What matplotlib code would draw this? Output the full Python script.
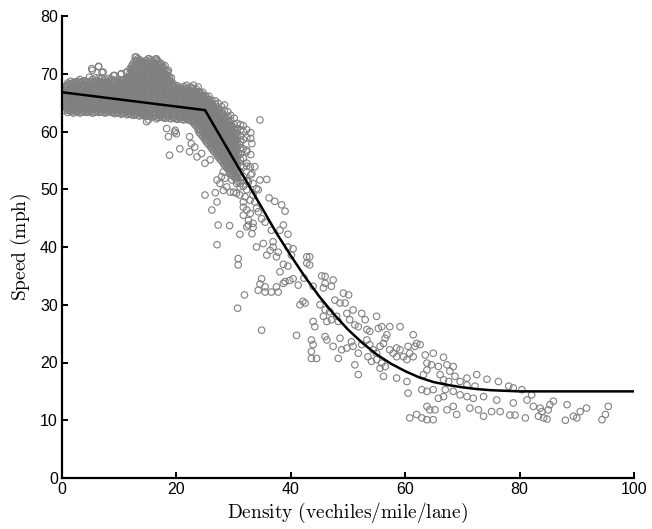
import numpy as np
import matplotlib
matplotlib.use("Agg")
import matplotlib.pyplot as plt

plt.rcParams['mathtext.fontset'] = 'cm'

# ---- fitted speed-density curve ----
line_density = [0, 25, 30, 35, 37.5, 40, 42.5, 45, 47.5, 50, 52.5, 55, 57.5, 60,
                62.5, 65, 67.5, 70, 72.5, 75, 77.5, 80, 100]
line_speed = [66.8, 63.7, 55.2, 46.7, 42.4, 38.5, 34.8, 31.4, 28.4, 25.7, 23.4, 21.4,
              19.8, 18.5, 17.4, 16.6, 16.1, 15.7, 15.4, 15.2, 15.1, 15.0, 15.0]

# ---- dense free-flow cloud: density -> speeds ----
dense_cloud_a = """
0.5: 63.6 64.3 65.0 65.7 66.4 67.1 67.7
1.0: 63.3 63.9 64.6 65.2 65.9 66.5 67.2 67.9 68.4
1.5: 63.5 64.1 64.8 65.4 66.1 66.8 67.4 68.1 68.7
2.0: 63.2 63.8 64.5 65.1 65.8 66.4 67.0 67.7 68.3
2.6: 63.4 64.0 64.7 65.3 66.0 66.6 67.3 67.9 68.6
3.1: 63.2 63.9 64.5 65.2 65.8 66.5 67.1 67.8 68.4 69.0
3.7: 63.5 64.1 64.8 65.4 66.1 66.7 67.4 68.0 68.7
4.2: 63.3 63.9 64.6 65.2 65.9 66.5 67.2 67.8 68.5
4.8: 63.4 64.1 64.7 65.4 66.0 66.7 67.3 68.0 68.6 69.4
5.3: 63.2 63.8 64.5 65.1 65.8 66.4 67.1 67.7 68.4 69.0 70.6
5.9: 63.5 64.1 64.8 65.4 66.1 66.7 67.4 68.0 68.7 69.3
6.4: 63.3 63.9 64.6 65.2 65.9 66.5 67.2 67.8 68.5 69.2 71.2
7.0: 63.4 64.0 64.7 65.3 66.0 66.6 67.3 67.9 68.6 69.3 70.2
7.5: 63.2 63.8 64.5 65.1 65.8 66.4 67.1 67.7 68.4 69.0
8.1: 63.5 64.1 64.7 65.4 66.0 66.7 67.3 68.0 68.6 69.2
8.6: 63.3 63.9 64.6 65.2 65.9 66.5 67.2 67.8 68.5 69.1
9.2: 63.1 63.7 64.4 65.0 65.7 66.3 67.0 67.6 68.3 68.9 69.7
9.7: 63.3 63.9 64.6 65.2 65.9 66.5 67.2 67.8 68.5
10.3: 63.0 63.7 64.3 65.0 65.6 66.3 66.9 67.6 68.2 68.9 69.9
10.8: 63.2 63.8 64.5 65.1 65.8 66.4 67.1 67.7 68.4 69.0
11.4: 62.9 63.6 64.2 64.9 65.5 66.2 66.8 67.5 68.1 68.8 69.4 70.3
11.9: 63.1 63.7 64.4 65.0 65.7 66.3 67.0 67.6 68.3 68.9 69.6 70.2 70.9
12.5: 62.8 63.4 64.1 64.7 65.4 66.0 66.7 67.3 68.0 68.6 69.3 69.9 70.6 71.2 71.9
13.0: 63.0 63.6 64.3 64.9 65.6 66.2 66.9 67.5 68.2 68.8 69.5 70.1 70.8 71.4 72.2 72.9
13.6: 62.7 63.3 64.0 64.6 65.3 65.9 66.6 67.2 67.9 68.5 69.2 69.8 70.5 71.1 71.8 72.4
14.1: 62.9 63.5 64.2 64.8 65.5 66.1 66.8 67.4 68.1 68.7 69.4 70.0 70.7 71.3 72.0
14.7: 62.6 63.2 63.9 64.5 65.2 65.8 66.5 67.1 67.8 68.4 69.1 69.7 70.4 71.0 71.7 72.3
15.2: 62.8 63.4 64.1 64.7 65.4 66.0 66.7 67.3 68.0 68.6 69.3 69.9 70.6 71.2 71.9 72.6
15.8: 62.5 63.1 63.8 64.4 65.1 65.7 66.4 67.0 67.7 68.3 69.0 69.6 70.3 70.9 71.6 72.2
16.3: 62.7 63.3 64.0 64.6 65.3 65.9 66.6 67.2 67.9 68.5 69.2 69.8 70.5 71.1 71.8 72.5
16.9: 62.4 63.0 63.7 64.3 65.0 65.6 66.3 66.9 67.6 68.2 68.9 69.5 70.2 70.8 71.5 72.1
17.4: 62.6 63.2 63.9 64.5 65.2 65.8 66.5 67.1 67.8 68.4 69.1 69.7 70.4 71.0 71.7
18.0: 62.3 62.9 63.6 64.2 64.9 65.5 66.2 66.8 67.5 68.1 68.8 69.4 70.1 70.7 71.4
18.5: 62.5 63.1 63.8 64.4 65.1 65.7 66.4 67.0 67.7 68.3 69.0 69.6 70.3
19.1: 62.2 62.8 63.5 64.1 64.8 65.4 66.1 66.7 67.4 68.0 68.6 69.3
19.6: 62.4 63.0 63.7 64.3 65.0 65.6 66.3 66.9 67.6 68.1
20.2: 62.1 62.7 63.4 64.0 64.7 65.3 66.0 66.6 67.3 67.9
20.7: 62.3 62.9 63.6 64.2 64.9 65.5 66.2 66.8 67.5
21.3: 62.0 62.6 63.3 63.9 64.6 65.2 65.9 66.5 67.2 67.8
21.8: 62.2 62.8 63.5 64.1 64.8 65.4 66.1 66.7 67.4
22.4: 61.9 62.5 63.2 63.8 64.5 65.1 65.8 66.4 67.1 67.7
22.9: 61.6 62.2 62.9 63.5 64.2 64.8 65.5 66.1 66.8 67.4
23.5: 60.9 61.5 62.2 62.8 63.5 64.1 64.8 65.4 66.1 66.7 67.3
24.0: 59.8 60.4 61.1 61.7 62.4 63.0 63.7 64.3 65.0 65.6 66.3 66.9
24.6: 59.1 59.7 60.4 61.0 61.7 62.3 63.0 63.6 64.3 64.9 65.6 66.2 66.8
25.1: 58.4 59.0 59.7 60.3 61.0 61.6 62.3 62.9 63.6 64.2 64.9 65.5 66.2
25.7: 57.7 58.3 59.0 59.6 60.3 60.9 61.6 62.2 62.9 63.5 64.2 64.8 65.5 66.1
26.2: 57.0 57.6 58.3 58.9 59.6 60.2 60.9 61.5 62.2 62.8 63.5 64.1 64.8 65.4
26.8: 56.3 56.9 57.6 58.2 58.9 59.5 60.2 60.8 61.5 62.1 62.8 63.4 64.1 64.7 65.3
27.3: 55.6 56.2 56.9 57.5 58.2 58.8 59.5 60.1 60.8 61.4 62.1 62.7 63.4 64.0 64.9
27.9: 54.9 55.5 56.2 56.8 57.5 58.1 58.8 59.4 60.1 60.7 61.4 62.0 62.7 63.3 64.3
28.4: 54.2 54.8 55.5 56.1 56.8 57.4 58.1 58.7 59.4 60.0 60.7 61.3 62.0 62.6 63.7 64.6
29.0: 53.5 54.1 54.8 55.4 56.1 56.7 57.4 58.0 58.7 59.3 60.0 60.6 61.3 61.9 62.6 63.4
29.5: 52.8 53.4 54.1 54.7 55.4 56.0 56.7 57.3 58.0 58.6 59.3 59.9 60.6 61.2 61.9 62.8
30.1: 52.1 52.7 53.4 54.0 54.7 55.3 56.0 56.6 57.3 57.9 58.6 59.2 59.9 60.5 61.2 62.3
30.6: 51.4 52.0 52.7 53.3 54.0 54.6 55.3 55.9 56.6 57.2 57.9 58.5 59.2 59.8 60.5 61.4
31.2: 51.0 52.0 53.0 54.0 55.1 56.1 57.2 58.2 59.3 60.3 61.2
31.7: 50.5 52.2 53.8 55.4 57.0 58.6 60.0 61.0
32.3: 51.5 54.0 56.5 58.9 60.3
33.0: 52.5 56.0 58.8 59.8
"""

dense_cloud_b = """
0.8: 63.9 64.6 65.3 66.0 66.7 67.4 68.0
1.3: 63.6 64.2 64.9 65.5 66.2 66.8 67.5 68.2
1.8: 63.4 64.0 64.6 65.3 65.9 66.5 67.2 67.8 68.4
2.3: 63.6 64.2 64.8 65.5 66.1 66.8 67.4 68.0 68.6
2.9: 63.5 64.1 64.8 65.4 66.1 66.7 67.4 68.0 68.7
3.4: 63.3 63.9 64.6 65.2 65.9 66.5 67.2 67.8 68.5
4.0: 63.6 64.2 64.9 65.5 66.2 66.8 67.5 68.1 68.8
4.5: 63.4 64.0 64.7 65.3 66.0 66.6 67.3 67.9 68.6
5.1: 63.5 64.1 64.8 65.4 66.1 66.7 67.4 68.0 68.7
5.6: 63.3 63.9 64.6 65.2 65.9 66.5 67.2 67.8 68.5
6.2: 63.6 64.2 64.9 65.5 66.2 66.8 67.5 68.1 68.8
6.7: 63.4 64.0 64.7 65.3 66.0 66.6 67.3 67.9 68.6
7.3: 63.5 64.1 64.8 65.4 66.1 66.7 67.4 68.0 68.7
7.8: 63.3 63.9 64.6 65.2 65.9 66.5 67.2 67.8 68.5
8.4: 63.6 64.2 64.9 65.5 66.2 66.8 67.5 68.1 68.8
8.9: 63.4 64.0 64.7 65.3 66.0 66.6 67.3 67.9 68.6
9.5: 63.2 63.8 64.5 65.1 65.8 66.4 67.1 67.7 68.4
10.0: 63.4 64.0 64.7 65.3 66.0 66.6 67.3 67.9 68.6
10.6: 63.1 63.7 64.4 65.0 65.7 66.3 67.0 67.6 68.3 68.9
11.1: 63.3 63.9 64.6 65.2 65.9 66.5 67.2 67.8 68.5 69.1
11.7: 63.0 63.6 64.3 64.9 65.6 66.2 66.9 67.5 68.2 68.8 69.5
12.2: 62.9 63.5 64.2 64.8 65.5 66.1 66.8 67.4 68.1 68.7 69.4 70.0 70.7 71.4
12.8: 63.1 63.7 64.4 65.0 65.7 66.3 67.0 67.6 68.3 68.9 69.6 70.2 70.9 71.6 72.3
13.3: 62.8 63.4 64.1 64.7 65.4 66.0 66.7 67.3 68.0 68.6 69.3 69.9 70.6 71.2 71.9 72.6
13.9: 63.0 63.6 64.3 64.9 65.6 66.2 66.9 67.5 68.2 68.8 69.5 70.1 70.8 71.4 72.1
14.4: 62.7 63.3 64.0 64.6 65.3 65.9 66.6 67.2 67.9 68.5 69.2 69.8 70.5 71.1 71.8
15.0: 62.9 63.5 64.2 64.8 65.5 66.1 66.8 67.4 68.1 68.7 69.4 70.0 70.7 71.3 72.0
15.5: 62.6 63.2 63.9 64.5 65.2 65.8 66.5 67.1 67.8 68.4 69.1 69.7 70.4 71.0 71.7 72.4
16.1: 62.8 63.4 64.1 64.7 65.4 66.0 66.7 67.3 68.0 68.6 69.3 69.9 70.6 71.2 71.9
16.6: 62.5 63.1 63.8 64.4 65.1 65.7 66.4 67.0 67.7 68.3 69.0 69.6 70.3 70.9 71.6 72.3
17.2: 62.7 63.3 64.0 64.6 65.3 65.9 66.6 67.2 67.9 68.5 69.2 69.8 70.5 71.1 71.7
17.7: 62.4 63.0 63.7 64.3 65.0 65.6 66.3 66.9 67.6 68.2 68.9 69.5 70.2 70.8
18.3: 62.6 63.2 63.9 64.5 65.2 65.8 66.5 67.1 67.8 68.4 69.1 69.7 70.4
18.8: 62.3 62.9 63.6 64.2 64.9 65.5 66.2 66.8 67.5 68.1 68.8 69.4
19.4: 62.5 63.1 63.8 64.4 65.1 65.7 66.4 67.0 67.7 68.3
19.9: 62.2 62.8 63.5 64.1 64.8 65.4 66.1 66.7 67.4
20.5: 62.4 63.0 63.7 64.3 65.0 65.6 66.3 66.9 67.6
21.0: 62.1 62.7 63.4 64.0 64.7 65.3 66.0 66.6 67.3
21.6: 62.3 62.9 63.6 64.2 64.9 65.5 66.2 66.8 67.5
22.1: 62.0 62.6 63.3 63.9 64.6 65.2 65.9 66.5 67.2
22.7: 61.8 62.4 63.1 63.7 64.4 65.0 65.7 66.3 67.0 67.6
23.2: 61.2 61.8 62.5 63.1 63.8 64.4 65.1 65.7 66.4 67.0
23.8: 60.3 60.9 61.6 62.2 62.9 63.5 64.2 64.8 65.5 66.1 66.7
24.3: 59.5 60.1 60.8 61.4 62.1 62.7 63.4 64.0 64.7 65.3 66.0 66.6
24.9: 58.8 59.4 60.1 60.7 61.4 62.0 62.7 63.3 64.0 64.6 65.3 65.9
25.4: 58.0 58.6 59.3 59.9 60.6 61.2 61.9 62.5 63.2 63.8 64.5 65.1 65.8
26.0: 57.3 57.9 58.6 59.2 59.9 60.5 61.2 61.8 62.5 63.1 63.8 64.4 65.1
26.5: 56.6 57.2 57.9 58.5 59.2 59.8 60.5 61.1 61.8 62.4 63.1 63.7 64.4
27.1: 55.9 56.5 57.2 57.8 58.5 59.1 59.8 60.4 61.1 61.7 62.4 63.0 63.7
27.6: 55.2 55.8 56.5 57.1 57.8 58.4 59.1 59.7 60.4 61.0 61.7 62.3 63.0 63.6
28.2: 54.5 55.1 55.8 56.4 57.1 57.7 58.4 59.0 59.7 60.3 61.0 61.6 62.3 63.0
28.7: 53.8 54.4 55.1 55.7 56.4 57.0 57.7 58.3 59.0 59.6 60.3 60.9 61.6 62.3
29.3: 53.1 53.7 54.4 55.0 55.7 56.3 57.0 57.6 58.3 58.9 59.6 60.2 60.9 61.6
29.8: 52.4 53.0 53.7 54.3 55.0 55.6 56.3 56.9 57.6 58.2 58.9 59.5 60.2 60.9
30.4: 51.8 52.4 53.1 53.7 54.4 55.0 55.7 56.3 57.0 57.6 58.3 58.9 59.6 60.2
"""

# ---- scattered (individually visible) observations ----
sparse_density = [
    # edges of the free-flow cloud
    15.1, 16.5, 19.8, 20.0, 14.8, 18.3, 18.6, 19.7, 20.6, 18.8, 22.3, 22.3, 22.6, 23.2, 34.6,
    12.8, 15.1, 16.5, 17.7, 18.6, 12.2, 11.3, 5.2, 6.4, 7.2, 9.0, 10.4, 21.8, 23.0, 23.8,
    # transition region
    25.0, 26.8, 27.1, 26.2, 27.3, 29.3, 31.1, 27.1, 30.8, 30.8, 31.9, 30.7, 34.9, 41.0,
    35.8, 36.2, 37.2, 38.4, 39.0, 34.9, 35.5, 36.6, 38.7, 39.5, 38.1, 34.0, 35.2, 36.4,
    36.9, 37.8, 35.8, 37.5, 39.5, 40.4, 40.1, 38.7, 39.5, 38.1, 36.9, 34.9, 34.6, 35.5,
    37.5, 36.6, 35.5, 34.3, 37.8, 39.8, 39.0, 38.7, 40.4, 41.3,
    31.7, 32.3, 32.9, 32.6, 33.4, 32.6, 31.7, 31.1, 30.5, 30.0, 29.4, 28.2, 28.8, 27.6,
    27.1, 27.9, 28.5, 29.7, 30.5, 31.1, 32.3, 33.4, 34.0, 34.6, 33.2, 32.9, 32.3, 33.7,
    31.7, 30.8, 32.3, 33.2, 31.1, 29.4, 25.9, 24.4, 23.6, 25.0, 28.2, 29.4, 30.5, 31.7,
    32.6, 33.4, 34.3, 32.0, 32.9, 33.7, 34.0, 34.3, 31.7, 32.3, 33.4, 33.2,
    # congested branch
    42.8, 43.3, 43.3, 42.8, 42.3, 45.4, 46.0, 47.4, 46.0, 47.1, 45.7, 42.1, 42.5, 41.6,
    43.9, 49.2, 50.1, 47.7, 48.6, 49.5, 50.9, 52.4, 45.1, 46.0, 46.8, 45.7, 46.3, 47.1,
    48.0, 48.3, 49.8, 50.3, 51.2, 51.8, 53.0, 55.0, 53.3, 53.8, 55.3, 55.9, 57.3, 59.1,
    43.9, 44.2, 46.0, 46.3, 47.4, 48.6, 48.9, 48.3, 43.6, 43.9, 43.6, 43.6, 44.5, 49.8,
    50.6, 50.9, 51.8, 51.2, 51.8, 52.4, 53.3, 53.8, 54.4, 55.0, 55.6, 56.2, 56.5, 56.8,
    57.3, 57.9, 58.5, 59.1, 58.5, 59.7, 60.3, 60.8, 61.4, 61.7, 62.0, 61.4, 60.5, 53.5,
    54.1, 55.0, 55.9, 55.6, 56.5, 56.2, 58.5, 60.3, 60.5, 60.8, 62.0,
    63.5, 64.9, 66.7, 63.8, 64.6, 65.8, 67.3, 68.4, 67.8, 68.7, 63.8, 63.2, 66.1, 66.7,
    67.6, 69.6, 70.8, 72.5, 70.8, 72.2, 62.9, 64.9, 63.8, 67.0, 68.4, 66.7, 65.8, 69.6,
    70.8, 71.9, 63.8, 64.3, 65.2, 68.4, 71.3, 72.8, 69.0, 67.3, 62.9, 63.8, 64.9, 62.6,
    74.3, 76.3, 78.1, 78.9, 80.4, 82.1, 73.7, 76.0, 78.9, 81.3, 82.4, 83.6, 85.3, 85.9,
    85.0, 88.3, 90.6, 91.7, 89.4, 90.0, 88.0, 83.9, 84.2, 84.8, 83.3, 81.0, 79.2, 78.3,
    76.6, 75.1, 73.7, 95.5, 95.0, 94.4,
]
sparse_speed = [
    62.0, 62.2, 60.2, 59.6, 61.7, 60.5, 59.1, 59.9, 57.0, 55.9, 59.1, 56.5, 57.9, 57.3, 62.0,
    72.9, 72.6, 72.6, 71.2, 70.6, 70.9, 70.3, 70.9, 71.3, 70.3, 69.7, 70.0, 68.0, 68.0, 67.7,
    49.0, 49.4, 47.8, 46.4, 43.8, 43.7, 42.2, 40.4, 38.0, 36.9, 31.7, 29.4, 25.6, 24.7,
    51.7, 48.5, 47.9, 47.3, 46.2, 44.9, 44.3, 42.9, 43.8, 42.2, 42.9, 40.0, 40.6, 39.4,
    40.0, 39.1, 38.6, 38.3, 40.0, 39.7, 38.6, 37.0, 36.7, 35.7, 40.9, 34.5, 33.6, 33.1,
    33.1, 32.2, 32.2, 32.5, 32.2, 34.2, 34.0, 33.7, 34.5, 33.4,
    46.9, 46.4, 45.8, 44.6, 44.1, 43.8, 47.8, 49.0, 49.3, 49.5, 49.5, 49.8, 50.4, 51.0,
    51.6, 52.2, 51.9, 51.6, 51.0, 50.4, 49.9, 49.0, 50.1, 51.6, 52.7, 53.9, 54.5, 53.9,
    55.4, 56.2, 56.8, 57.9, 57.7, 56.8, 55.1, 56.2, 55.6, 54.5, 53.0, 52.7, 52.2, 51.6,
    51.3, 51.0, 49.9, 48.7, 48.1, 47.8, 46.7, 46.1, 45.5, 43.5, 43.4, 42.3,
    38.3, 38.3, 36.9, 37.2, 34.6, 35.0, 34.9, 34.3, 33.7, 33.2, 32.9, 30.6, 30.3, 30.0,
    33.2, 32.0, 31.7, 30.8, 30.3, 30.3, 29.1, 28.5, 30.0, 29.1, 28.8, 28.0, 27.1, 27.4,
    28.0, 27.1, 28.5, 27.4, 26.5, 26.2, 27.4, 28.0, 25.7, 25.4, 25.9, 26.2, 26.2, 26.2,
    27.1, 26.2, 24.5, 23.9, 22.8, 24.2, 22.2, 20.7, 23.9, 23.1, 21.9, 20.7, 20.7, 22.5,
    23.6, 22.8, 21.6, 19.6, 17.9, 23.1, 23.9, 23.1, 22.2, 21.6, 22.8, 23.3, 24.2, 24.8,
    22.2, 21.6, 21.0, 22.2, 22.5, 21.0, 20.5, 21.6, 21.0, 22.8, 23.3, 24.8, 22.8, 21.0,
    20.2, 20.5, 19.9, 19.0, 19.3, 17.6, 17.3, 16.7, 14.7, 10.4, 11.0,
    21.3, 21.6, 20.9, 19.9, 19.6, 19.3, 19.6, 19.3, 18.5, 17.6, 18.7, 17.9, 17.9, 17.0,
    16.7, 16.7, 17.3, 17.9, 16.1, 15.9, 15.3, 15.3, 15.0, 15.3, 15.0, 14.1, 13.8, 14.4,
    14.1, 13.8, 12.4, 11.8, 11.8, 12.4, 12.1, 11.8, 11.0, 11.8, 10.4, 10.1, 10.1, 23.1,
    17.1, 16.7, 15.9, 15.6, 15.3, 14.4, 14.1, 13.5, 13.0, 13.5, 12.4, 12.1, 12.7, 13.3,
    11.8, 12.7, 11.5, 12.1, 10.7, 10.4, 10.0, 11.5, 10.4, 10.2, 10.7, 10.4, 10.9, 10.9,
    11.5, 11.5, 10.7, 12.4, 11.0, 10.1,
]

x_ticks = [0, 20, 40, 60, 80, 100]
y_ticks = [0, 10, 20, 30, 40, 50, 60, 70, 80]

# parse the dense cloud tables
dense_x, dense_y = [], []
for table in (dense_cloud_a, dense_cloud_b):
    for row in table.strip().splitlines():
        k, vals = row.split(":")
        for v in vals.split():
            dense_x.append(float(k))
            dense_y.append(float(v))

all_x = np.array(dense_x + sparse_density)
all_y = np.array(dense_y + sparse_speed)

fig = plt.figure(figsize=(6.52, 5.29), dpi=100)
ax = fig.add_axes([62 / 652, 51 / 529, 572 / 652, 462 / 529])

ax.scatter(all_x, all_y, s=22, facecolors='none', edgecolors='#808080',
           linewidths=0.8, zorder=2)
ax.plot(line_density, line_speed, color='black', lw=1.8, zorder=3)

ax.set_xlim(0, 100)
ax.set_ylim(0, 80)
ax.set_xticks(x_ticks)
ax.set_yticks(y_ticks)
for s in ['top', 'right']:
    ax.spines[s].set_visible(False)
for s in ['left', 'bottom']:
    ax.spines[s].set_linewidth(1.6)
ax.tick_params(direction='in', length=4, width=1.4, labelsize=11.5, pad=3)
for lab in ax.get_xticklabels() + ax.get_yticklabels():
    lab.set_family(['Liberation Sans', 'DejaVu Sans'])

ax.set_xlabel(r'$\mathrm{Density\ (vechiles/mile/lane)}$', fontsize=14, labelpad=3)
ax.set_ylabel(r'$\mathrm{Speed\ (mph)}$', fontsize=14, labelpad=5)

fig.savefig('out.png', dpi=100)
